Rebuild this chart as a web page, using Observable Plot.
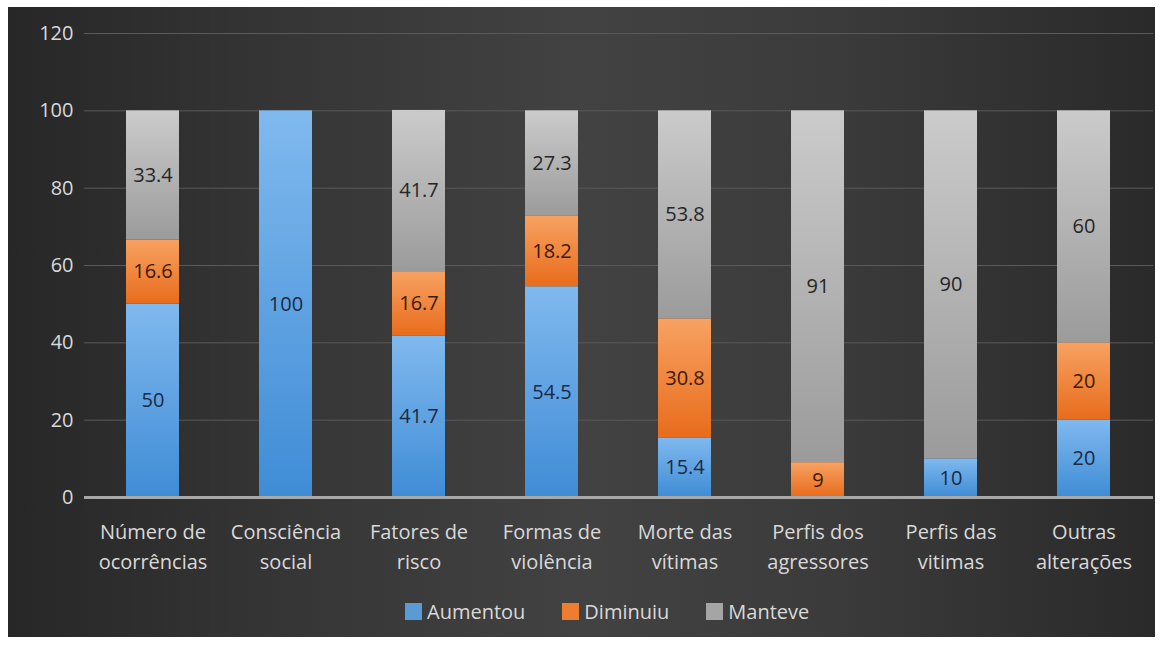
<!DOCTYPE html>
<html>
<head>
<meta charset="utf-8">
<script src="https://cdn.jsdelivr.net/npm/d3@7"></script>
<script src="https://cdn.jsdelivr.net/npm/@observablehq/plot@0.6"></script>
<style>
  html, body { margin: 0; padding: 0; background: #ffffff; width: 1168px; height: 645px; overflow: hidden; }
  #panel {
    position: absolute; left: 8px; top: 7px; width: 1147px; height: 630px;
    background: linear-gradient(to right, #272727 0%, #363636 25%, #424242 50%, #3b3b3b 72%, #2a2a2a 100%);
    font-family: "Open Sans", "Noto Sans", sans-serif;
  }
  #chart { position: absolute; left: 0; top: 0; }
  #legend {
    position: absolute; left: 397px; top: 591px; display: flex; align-items: center;
    color: #d9d9d9; font-size: 20px; font-family: "Open Sans", "Noto Sans", sans-serif;
  }
  #legend .item { display: flex; align-items: center; margin-right: 37px; }
  #legend .sw { width: 17px; height: 17px; margin-right: 5px; }
</style>
</head>
<body>
<div id="panel">
  <div id="chart"></div>
  <div id="legend"></div>
</div>
<script>
const categories = [
  "Número de\nocorrências", "Consciência\nsocial", "Fatores de\nrisco", "Formas de\nviolência",
  "Morte das\nvítimas", "Perfis dos\nagressores", "Perfis das\nvitimas", "Outras\nalterações"
];
const seriesNames = ["Aumentou", "Diminuiu", "Manteve"];
const aumentou = [50, 100, 41.7, 54.5, 15.4, 0, 10, 20];
const diminuiu = [16.6, 0, 16.7, 18.2, 30.8, 9, 0, 20];
const manteve  = [33.4, 0, 41.7, 27.3, 53.8, 91, 90, 60];
const yTicks = [0, 20, 40, 60, 80, 100, 120];

const seriesValues = [aumentou, diminuiu, manteve];
const solidColors = ["#5b9bd5", "#ed7d31", "#a5a5a5"];
const labelColors = ["#1b2a44", "#3f1800", "#262626"];
const gradStops = [
  ["#80b9ee", "#3f8cd6"],
  ["#f7a262", "#e86c1c"],
  ["#cbcbcb", "#9b9b9b"]
];
const gradIds = ["gAum", "gDim", "gMan"];

const data = [];
seriesNames.forEach((s, si) => {
  categories.forEach((c, ci) => {
    data.push({cat: c, series: s, value: seriesValues[si][ci]});
  });
});

const defsMark = () => {
  const svgNS = "http://www.w3.org/2000/svg";
  const g = document.createElementNS(svgNS, "g");
  const defs = document.createElementNS(svgNS, "defs");
  gradIds.forEach((id, i) => {
    const lg = document.createElementNS(svgNS, "linearGradient");
    lg.setAttribute("id", id);
    lg.setAttribute("x1", "0"); lg.setAttribute("y1", "0");
    lg.setAttribute("x2", "0"); lg.setAttribute("y2", "1");
    [[0, gradStops[i][0]], [1, gradStops[i][1]]].forEach(([o, col]) => {
      const st = document.createElementNS(svgNS, "stop");
      st.setAttribute("offset", o);
      st.setAttribute("stop-color", col);
      lg.appendChild(st);
    });
    defs.appendChild(lg);
  });
  g.appendChild(defs);
  return g;
};

const nonZero = data.filter(d => d.value > 0);

const chart = Plot.plot({
  width: 1147,
  height: 580,
  marginTop: 26,
  marginBottom: 90,
  marginLeft: 76,
  marginRight: 2,
  style: {background: "transparent", fontFamily: "'Open Sans', 'Noto Sans', sans-serif", fontSize: "20px", color: "#d9d9d9", overflow: "visible"},
  x: {domain: categories, paddingInner: 0.6, paddingOuter: 0.3, label: null},
  y: {domain: [0, 120], ticks: yTicks, label: null},
  color: {domain: seriesNames, range: gradIds.map(id => `url(#${id})`)},
  marks: [
    defsMark,
    Plot.gridY(yTicks, {stroke: "#5a5a5a", strokeOpacity: 1, strokeWidth: 1}),
    Plot.axisY(yTicks, {tickSize: 0, tickPadding: 11, fontSize: 20, fill: "#d9d9d9", label: null}),
    Plot.axisX({tickSize: 0, tickPadding: 20, fontSize: 20, lineHeight: 1.5, fill: "#d9d9d9", label: null}),
    Plot.barY(data, {x: "cat", y: "value", fill: "series", order: seriesNames}),
    Plot.ruleY([0], {stroke: "#a8a8a8", strokeWidth: 3}),
    Plot.text(nonZero, Plot.stackY({
      x: "cat", y: "value", z: "series", order: seriesNames,
      text: d => String(d.value),
      fill: d => labelColors[seriesNames.indexOf(d.series)],
      fontSize: 20
    }))
  ]
});
document.getElementById("chart").appendChild(chart);

const legend = document.getElementById("legend");
seriesNames.forEach((s, i) => {
  const item = document.createElement("div");
  item.className = "item";
  const sw = document.createElement("div");
  sw.className = "sw";
  sw.style.background = solidColors[i];
  const t = document.createElement("span");
  t.textContent = s;
  item.appendChild(sw);
  item.appendChild(t);
  legend.appendChild(item);
});
</script>
</body>
</html>
